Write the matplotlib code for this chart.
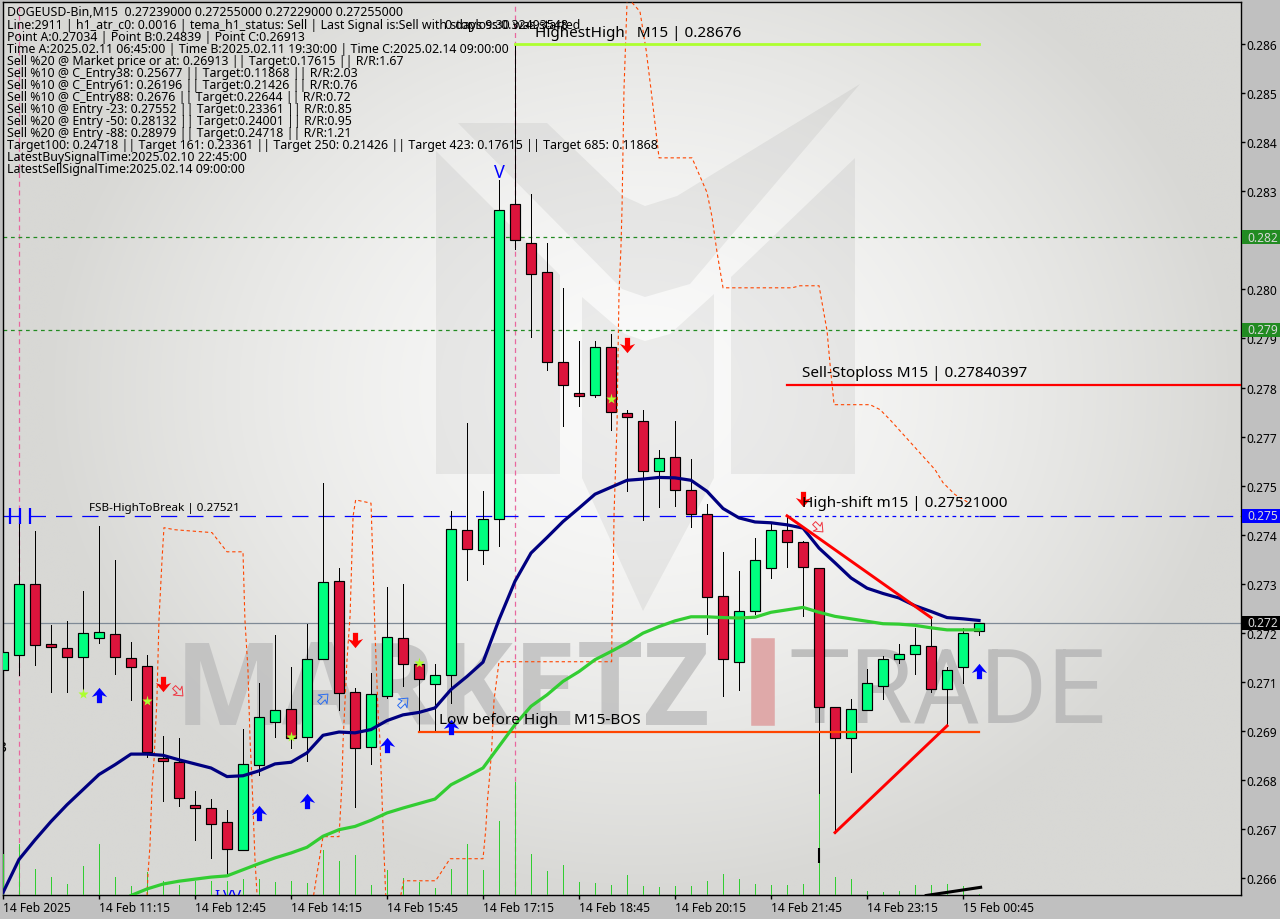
import numpy as np
import matplotlib
matplotlib.use("Agg")
import matplotlib.pyplot as plt
import matplotlib.patheffects as pe
from matplotlib.patches import Polygon, Rectangle
from matplotlib.path import Path
from matplotlib.transforms import Affine2D, blended_transform_factory

plt.rcParams['font.family'] = ['Noto Sans', 'DejaVu Sans']

# candles, one per 15 minutes
bar_open = [0.27144, 0.27180, 0.27354, 0.27207, 0.27198, 0.27176, 0.27222, 0.27232, 0.27173, 0.27154, 0.26928,
            0.26919, 0.26813, 0.26806, 0.26772, 0.26703, 0.26911, 0.27017, 0.27048, 0.26980, 0.27171, 0.27362,
            0.27090, 0.26955, 0.27080, 0.27222, 0.27158, 0.27110, 0.27132, 0.27486, 0.27437, 0.27513, 0.28284,
            0.28189, 0.28118, 0.27898, 0.27822, 0.27817, 0.27934, 0.27773, 0.27753, 0.27631, 0.27665, 0.27584,
            0.27525, 0.27325, 0.27163, 0.27288, 0.27393, 0.27486, 0.27457, 0.27393, 0.27053, 0.26977, 0.27047,
            0.27105, 0.27171, 0.27183, 0.27203, 0.27097, 0.27151, 0.27239]
bar_close = [0.27187, 0.27354, 0.27205, 0.27200, 0.27176, 0.27234, 0.27237, 0.27176, 0.27151, 0.26943, 0.26920,
             0.26831, 0.26805, 0.26767, 0.26706, 0.26914, 0.27029, 0.27046, 0.26977, 0.27171, 0.27359, 0.27088,
             0.26953, 0.27085, 0.27225, 0.27158, 0.27122, 0.27132, 0.27489, 0.27440, 0.27513, 0.28269, 0.28196,
             0.28113, 0.27898, 0.27841, 0.27814, 0.27934, 0.27775, 0.27763, 0.27631, 0.27663, 0.27584, 0.27526,
             0.27322, 0.27171, 0.27288, 0.27413, 0.27486, 0.27457, 0.27396, 0.27053, 0.26977, 0.27048, 0.27112,
             0.27171, 0.27183, 0.27205, 0.27097, 0.27144, 0.27234, 0.27259]
bar_high = [0.27291, 0.27524, 0.27485, 0.27255, 0.27264, 0.27338, 0.27497, 0.27414, 0.27213, 0.27181, 0.26983,
            0.26978, 0.26848, 0.26829, 0.26802, 0.27000, 0.27113, 0.27230, 0.27152, 0.27257, 0.27602, 0.27394,
            0.27100, 0.27137, 0.27348, 0.27353, 0.27171, 0.27159, 0.27534, 0.27749, 0.27582, 0.28344, 0.28676,
            0.28309, 0.28189, 0.28079, 0.27950, 0.27950, 0.27967, 0.27781, 0.27781, 0.27683, 0.27754, 0.27661,
            0.27551, 0.27433, 0.27387, 0.27467, 0.27505, 0.27524, 0.27460, 0.27394, 0.27053, 0.27074, 0.27147,
            0.27178, 0.27208, 0.27247, 0.27272, 0.27152, 0.27247, 0.27259]
bar_low = [0.27007, 0.27132, 0.27157, 0.27089, 0.27091, 0.27088, 0.27211, 0.27135, 0.27071, 0.26932, 0.26822,
           0.26810, 0.26729, 0.26683, 0.26643, 0.26703, 0.26886, 0.26979, 0.26954, 0.26920, 0.27171, 0.27045,
           0.26809, 0.26913, 0.27075, 0.27104, 0.26994, 0.26998, 0.27063, 0.27363, 0.27402, 0.27446, 0.28174,
           0.27958, 0.27879, 0.27740, 0.27791, 0.27811, 0.27730, 0.27583, 0.27510, 0.27542, 0.27544, 0.27493,
           0.27233, 0.27079, 0.27094, 0.27281, 0.27368, 0.27395, 0.27277, 0.26672, 0.26745, 0.26893, 0.27045,
           0.27072, 0.27160, 0.27135, 0.27089, 0.27007, 0.27113, 0.27229]
tick_volume = [41, 51, 26, 18, 11, 29, 51, 18, 9, 23, 14, 10, 14, 14, 14, 16, 16, 13, 14, 12,
               45, 34, 40, 10, 25, 17, 13, 7, 26, 51, 25, 74, 113, 41, 24, 30, 13, 12, 10, 20,
               9, 8, 9, 9, 14, 21, 16, 11, 10, 10, 11, 101, 18, 16, 4, 3, 4, 10, 10, 11, 9, 1]

# moving averages
ema_fast = [0.26599, 0.26680, 0.26728, 0.26773, 0.26814, 0.26851, 0.26888, 0.26912, 0.26938, 0.26938, 0.26935,
            0.26924, 0.26914, 0.26904, 0.26883, 0.26885, 0.26897, 0.26914, 0.26918, 0.26941, 0.26984, 0.26992,
            0.26990, 0.26998, 0.27020, 0.27034, 0.27040, 0.27051, 0.27096, 0.27128, 0.27163, 0.27267, 0.27361,
            0.27430, 0.27468, 0.27507, 0.27540, 0.27574, 0.27591, 0.27608, 0.27611, 0.27615, 0.27614, 0.27608,
            0.27581, 0.27539, 0.27516, 0.27506, 0.27504, 0.27499, 0.27491, 0.27442, 0.27406, 0.27369, 0.27344,
            0.27331, 0.27320, 0.27301, 0.27287, 0.27272, 0.27269, 0.27265]
ema_slow_start = 8
ema_slow = [0.26592, 0.26608, 0.26620, 0.26627, 0.26632, 0.26637, 0.26640, 0.26655, 0.26670, 0.26684, 0.26696,
            0.26710, 0.26737, 0.26753, 0.26761, 0.26776, 0.26794, 0.26806, 0.26817, 0.26828, 0.26863, 0.26883,
            0.26904, 0.26957, 0.27010, 0.27055, 0.27083, 0.27116, 0.27140, 0.27169, 0.27189, 0.27210, 0.27234,
            0.27250, 0.27264, 0.27274, 0.27274, 0.27272, 0.27271, 0.27273, 0.27285, 0.27291, 0.27297, 0.27285,
            0.27275, 0.27269, 0.27263, 0.27257, 0.27256, 0.27253, 0.27247, 0.27242, 0.27242, 0.27242]

# thin dashed orange channel, in four broken pieces
chan1_x = [9.0, 9.06, 9.19, 9.31, 9.44, 9.62, 9.75, 9.94, 10.06, 10.75, 13.06, 14.0, 15.0, 15.12, 15.31, 15.44,
           15.56, 15.75, 15.88]
chan1_y = [0.26592, 0.26643, 0.26716, 0.26851, 0.26924, 0.27071, 0.27267, 0.27414, 0.27492, 0.27487, 0.27480,
           0.27433, 0.27433, 0.27267, 0.27144, 0.26973, 0.26875, 0.26680, 0.26592]
chan2_x = [19.41, 19.9, 20, 21, 21.12, 21.19, 21.25, 21.5, 21.69, 21.88, 22.04, 23.0, 23.14, 23.25, 23.46, 23.56,
           23.65, 23.75, 23.88, 23.92]
chan2_y = [0.26592, 0.26712, 0.26736, 0.26736, 0.26819, 0.26875, 0.26965, 0.27169, 0.27275, 0.27520, 0.27560,
           0.27552, 0.27381, 0.27235, 0.27022, 0.26973, 0.26875, 0.26760, 0.26631, 0.26592]
chan3_x = [24.86, 25.04, 27.04, 27.94, 30, 30.17, 30.28, 30.38, 30.54, 30.69, 31, 38.04, 38.06, 38.12, 38.19,
           38.38, 38.44, 38.5, 38.62, 38.69, 38.75, 38.81, 39]
chan3_y = [0.26592, 0.26628, 0.26628, 0.26682, 0.26682, 0.26753, 0.26826, 0.26868, 0.26949, 0.27071, 0.27164,
           0.27164, 0.27250, 0.27326, 0.27527, 0.27751, 0.27923, 0.28067, 0.28177, 0.28278, 0.28421, 0.28564,
           0.28777]
chan4_x = [39.31, 39.81, 40.19, 40.5, 40.75, 41, 43.06, 44, 44.31, 44.62, 45, 49.31, 49.81, 51, 51.5, 51.69,
           51.94, 54.19, 54.81, 55.44, 58.25, 58.75, 59.5, 60.44]
chan4_y = [0.28777, 0.28755, 0.28662, 0.28564, 0.28481, 0.28397, 0.28397, 0.28312, 0.28253, 0.28167, 0.28079,
           0.28079, 0.28084, 0.28084, 0.27974, 0.27891, 0.27793, 0.27793, 0.27781, 0.27756, 0.27634, 0.27602,
           0.27573, 0.27551]

# signal marks
buy_x = [6, 16, 19, 24, 28, 61]
buy_y = [0.27083, 0.26795, 0.26824, 0.26961, 0.27005, 0.27142]
sell_x = [10, 22, 39, 50]
sell_y = [0.27110, 0.27216, 0.27940, 0.27563]
hollow_buy_x = [20, 25]
hollow_buy_y = [0.27076, 0.27066]
hollow_sell_x = [10.94, 50.94]
hollow_sell_y = [0.27093, 0.27494]
star_x = [5, 9, 18, 26, 38]
star_y = [0.27086, 0.27069, 0.26981, 0.27162, 0.27808]
break_x = [0.44, 1.06, 1.69]

# levels
highest_high = 0.28676
stoploss = 0.27840397
high_shift = 0.27521
low_before_high = 0.26993
last_price = 0.27259
green_level_1 = 0.28203
green_level_2 = 0.27976

y_tick_values = [0.28675, 0.28555, 0.28435, 0.28315, 0.28195, 0.28075, 0.27955, 0.27835, 0.27715, 0.27595, 0.27475,
                 0.27355, 0.27235, 0.27115, 0.26995, 0.26875, 0.26755, 0.26635]
# the 0.282 tick sits right under its price tag
y_tick_labels = ['0.286', '0.285', '0.284', '0.283', '', '0.280', '0.279', '0.278', '0.277', '0.275', '0.274',
                 '0.273', '0.272', '0.271', '0.269', '0.268', '0.267', '0.266']
x_tick_values = [0, 6, 12, 18, 24, 30, 36, 42, 48, 54, 60]
x_tick_labels = ['14 Feb 2025', '14 Feb 11:15', '14 Feb 12:45', '14 Feb 14:15', '14 Feb 15:45', '14 Feb 17:15',
                 '14 Feb 18:45', '14 Feb 20:15', '14 Feb 21:45', '14 Feb 23:15', '15 Feb 00:45']

info_lines = [
    'DOGEUSD-Bin,M15  0.27239000 0.27255000 0.27229000 0.27255000',
    'Line:2911 | h1_atr_c0: 0.0016 | tema_h1_status: Sell | Last Signal is:Sell with stoploss:0.32493548',
    'Point A:0.27034 | Point B:0.24839 | Point C:0.26913',
    'Time A:2025.02.11 06:45:00 | Time B:2025.02.11 19:30:00 | Time C:2025.02.14 09:00:00',
    'Sell %20 @ Market price or at: 0.26913 || Target:0.17615 || R/R:1.67',
    'Sell %10 @ C_Entry38: 0.25677 || Target:0.11868 || R/R:2.03',
    'Sell %10 @ C_Entry61: 0.26196 || Target:0.21426 || R/R:0.76',
    'Sell %10 @ C_Entry88: 0.2676 || Target:0.22644 || R/R:0.72',
    'Sell %10 @ Entry -23: 0.27552 || Target:0.23361 || R/R:0.85',
    'Sell %20 @ Entry -50: 0.28132 || Target:0.24001 || R/R:0.95',
    'Sell %20 @ Entry -88: 0.28979 || Target:0.24718 || R/R:1.21',
    'Target100: 0.24718 || Target 161: 0.23361 || Target 250: 0.21426 || Target 423: 0.17615 || Target 685: 0.11868',
    'LatestBuySignalTime:2025.02.10 22:45:00',
    'LatestSellSignalTime:2025.02.14 09:00:00',
]

W, H = 1280, 920
fig = plt.figure(figsize=(W / 100, H / 100), dpi=100, facecolor='#c0c0c0')
ax = fig.add_axes([2.5 / W, 1 - 896 / H, 1238 / W, 893.5 / H])
# y goes down here, handy for the watermark and the text block
px = Affine2D().scale(1 / W, -1 / H).translate(0, 1) + fig.transFigure

x_left = -0.03
x_right = 77.34
y_low = 0.265932
y_high = 0.287796
price_per_px = (y_high - y_low) / 893.5

# background, light in the middle and darker to the corners
gx, gy = np.meshgrid(np.linspace(0, 1280, 320), np.linspace(0, 920, 230))
r = np.sqrt(((gx - 660) / 620) ** 2 + ((gy - 400) / 520) ** 2)
shade = 250 - 34 * np.clip(r, 0, 1) ** 1.6
rgb = np.dstack([shade, shade, shade - 3 * np.clip(r, 0, 1)]) / 255
ax.imshow(rgb, extent=[x_left, x_right, y_low, y_high], aspect='auto', zorder=0, interpolation='bilinear')

# logo behind the chart
logo_shapes = [
    [(436, 152), (560, 276), (560, 475), (436, 475)],
    [(582, 298), (625, 335), (645, 342), (670, 335), (714, 295), (714, 479), (643, 612), (582, 479)],
    [(731, 278), (855, 159), (855, 475), (731, 475)],
    [(458, 124), (547, 124), (623, 197), (645, 207), (677, 197), (860, 85), (690, 285), (645, 298), (622, 290)],
]
for shape in logo_shapes:
    ax.add_patch(Polygon(shape, closed=True, transform=px, facecolor='black', alpha=0.055, edgecolor='none', zorder=1))

ax.text(175, 725, 'MARKETZ', transform=px, fontsize=82.5, family=['Open Sans', 'DejaVu Sans'], weight='bold',
        color='#bdbdbd', alpha=0.8, va='baseline', ha='left', zorder=1)
ax.text(763, 724, 'I', transform=px, fontsize=83, family=['Open Sans', 'DejaVu Sans'], weight='bold',
        color='#dfa9a9', va='baseline', ha='center', zorder=1,
        path_effects=[pe.withStroke(linewidth=4, foreground='#dfa9a9', joinstyle='miter')])
ax.text(788, 724, 'TRADE', transform=px, fontsize=74, family=['Roboto', 'DejaVu Sans'],
        color='#b9b9b9', alpha=0.9, va='baseline', ha='left', zorder=1)

# vertical session lines and horizontal levels
for vx in [1, 32]:
    ax.axvline(vx, color='#e8689f', lw=0.9, ls=(0, (4, 3)), zorder=2)
ax.axhline(green_level_1, color='#228b22', lw=0.9, ls=(0, (3, 3)), zorder=2)
ax.axhline(green_level_2, color='#228b22', lw=0.9, ls=(0, (3, 3)), zorder=2)
ax.plot([x_left, 49], [high_shift, high_shift], color='#0000ff', lw=0.9, ls=(0, (13, 8)), zorder=2)
ax.plot([49, 61], [high_shift, high_shift], color='#0000ff', lw=0.9, ls=(0, (3, 3)), zorder=2)
ax.plot([61, x_right], [high_shift, high_shift], color='#0000ff', lw=0.9, ls=(0, (13, 6)), zorder=2)
ax.axhline(last_price, color='#7f8a96', lw=0.9, zorder=2)

# candles
bars = np.arange(len(bar_open))
o = np.array(bar_open)
c = np.array(bar_close)
colors = ['#00ff7f' if c[i] > o[i] else '#dc143c' for i in bars]
ax.vlines(bars, bar_low, bar_high, color='black', lw=0.72, zorder=3, antialiased=False)
ax.bar(bars, np.abs(c - o), bottom=np.minimum(o, c), width=0.63, color=colors, edgecolor='black', linewidth=0.85,
       zorder=3.1)

# tick volume sits on the bottom edge
ax.vlines(bars, y_low, y_low + np.array(tick_volume) * price_per_px, color='#32cd32', lw=0.72, zorder=3.2,
          antialiased=False)
ax.vlines(51, 0.26672, 0.26709, color='black', lw=1.5, zorder=3.3)

# channel
for cx, cy in [(chan1_x, chan1_y), (chan2_x, chan2_y), (chan3_x, chan3_y), (chan4_x, chan4_y)]:
    ax.plot(cx, cy, color='#ff4500', lw=0.8, ls=(0, (3, 2.5)), zorder=3.5)

# level lines
ax.plot([32, 61], [highest_high, highest_high], color='#adff2f', lw=2, zorder=4)
ax.plot([49, x_right], [stoploss, stoploss], color='#ff0000', lw=1.6, zorder=4)
ax.plot([26, 61], [low_before_high, low_before_high], color='#ff4500', lw=1.6, zorder=4)

# averages
ax.plot(bars, ema_fast, color='#000080', lw=2.3, zorder=5)
ax.plot(bars[ema_slow_start:], ema_slow, color='#32cd32', lw=2.3, zorder=5)

# trend lines
ax.plot([49, 58], [0.27521, 0.27272], color='#ff0000', lw=2.1, zorder=6)
ax.plot([52, 59], [0.26746, 0.27007], color='#ff0000', lw=2.1, zorder=6)
ax.plot([57.7, 61.1], [0.26592, 0.26612], color='black', lw=2.2, zorder=6)

# arrow markers
arrow = np.array([(-0.17, -0.5), (0.17, -0.5), (0.17, 0.02), (0.5, -0.1), (0.0, 0.5), (-0.5, -0.1), (-0.17, 0.02)])
closed_arrow = np.vstack([arrow, arrow[0]])
up_marker = Path(closed_arrow, closed=True)
down_marker = Path(closed_arrow * [1, -1], closed=True)
turn = np.radians(45)
rot = np.array([[np.cos(turn), np.sin(turn)], [-np.sin(turn), np.cos(turn)]])
hollow_up = Path(closed_arrow @ rot.T, closed=True)
hollow_down = Path((closed_arrow * [1, -1]) @ rot, closed=True)

ax.plot(buy_x, buy_y, ls='none', marker=up_marker, ms=11, color='#0000ff', mec='none', zorder=7)
ax.plot(sell_x, sell_y, ls='none', marker=down_marker, ms=11, color='#ff0000', mec='none', zorder=7)
ax.plot(hollow_buy_x, hollow_buy_y, ls='none', marker=hollow_up, ms=8.5, mfc='none', mec='#2a6cf0', mew=0.7, zorder=7)
ax.plot(hollow_sell_x, hollow_sell_y, ls='none', marker=hollow_down, ms=8.5, mfc='none', mec='#f0333f', mew=0.7,
        zorder=7)
ax.plot(star_x, star_y, ls='none', marker='*', ms=8, color='#adff2f', mec='none', zorder=7)
ax.plot(break_x, [high_shift] * 3, ls='none', marker='|', ms=11, mew=1.6, color='#0000ff', zorder=7)

# labels on the chart
ax.text(33.25, 0.28703, 'HighestHigh   M15 | 0.28676', fontsize=11, va='center', zorder=8)
ax.text(49.94, 0.27871, 'Sell-Stoploss M15 | 0.27840397', fontsize=11, va='center', zorder=8)
ax.text(49.94, 0.27553, 'High-shift m15 | 0.27521000', fontsize=11, va='center', zorder=8)
ax.text(27.25, 0.27022, 'Low before High    M15-BOS', fontsize=11, va='center', zorder=8)
ax.text(5.375, 0.27541, 'FSB-HighToBreak | 0.27521', fontsize=8.4, va='center', zorder=8)
ax.text(31, 0.28363, 'V', color='#0000ff', fontsize=13, ha='center', va='center', zorder=8)
for mx, mark in zip([13.4, 14.06, 14.6], ['I', 'V', 'V']):
    ax.text(mx, 0.26592, mark, color='#0000ff', fontsize=11, ha='center', va='center', clip_on=True, zorder=8)
ax.text(-0.1, 0.26954, 'B', fontsize=11, ha='center', va='center', clip_on=True, zorder=8)

# info block in the corner
for n, line in enumerate(info_lines):
    ax.text(7, 13 + n * 12.03, line, transform=px, fontsize=8.9, va='center', zorder=9)
ax.text(445, 25, '0 days 9:30 was started', transform=px, fontsize=8.9, va='center', zorder=9)

ax.set_xlim(x_left, x_right)
ax.set_ylim(y_low, y_high)
ax.set_xticks(x_tick_values)
ax.set_xticklabels(x_tick_labels, ha='left', fontsize=8.6)
ax.yaxis.tick_right()
ax.set_yticks(y_tick_values)
ax.set_yticklabels(y_tick_labels, fontsize=8.6)
ax.tick_params(axis='both', length=3, width=1, direction='out', color='black')
ax.tick_params(axis='x', pad=1)
ax.tick_params(axis='y', pad=1.5)
for s in ax.spines.values():
    s.set_linewidth(1)

# price tags on the right edge
edge = blended_transform_factory(fig.transFigure, ax.transData)
tags = [(green_level_1, '0.282', '#228b22'), (green_level_2, '0.279', '#228b22'),
        (high_shift, '0.275', '#0000ff'), (last_price, '0.272', '#000000')]
for value, label, back in tags:
    ax.add_patch(Rectangle((1242 / W, value - 7 * price_per_px), 38 / W, 14 * price_per_px, transform=edge,
                           facecolor=back, edgecolor='none', clip_on=False, zorder=10))
    ax.text(1247 / W, value, label, transform=edge, color='#d8d8d8', fontsize=8.6, va='center', clip_on=False,
            zorder=11)

fig.savefig('out.png', dpi=100, facecolor=fig.get_facecolor())
